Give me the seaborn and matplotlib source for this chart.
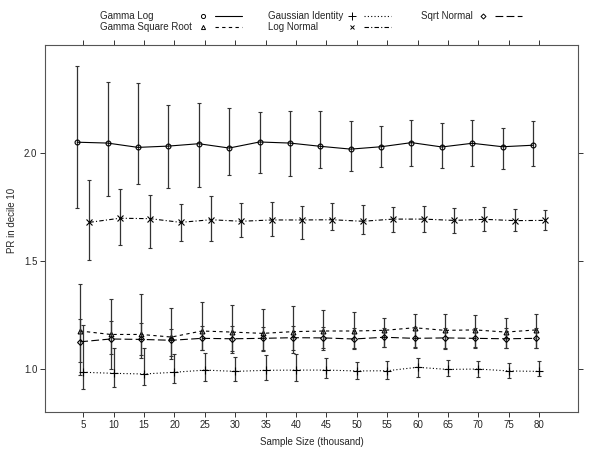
import numpy as np
import pandas as pd
import matplotlib
matplotlib.use("Agg")
import matplotlib.pyplot as plt
import seaborn as sns
from matplotlib.lines import Line2D
from matplotlib.text import Text
from matplotlib.legend_handler import HandlerBase

# sample size (thousand)
sample_size = [5, 10, 15, 20, 25, 30, 35, 40, 45, 50, 55, 60, 65, 70, 75, 80]

models = ["Gamma Log", "Gamma Square Root", "Gaussian Identity", "Log Normal", "Sqrt Normal"]

gamma_log_mean = [2.050, 2.046, 2.026, 2.032, 2.043, 2.023, 2.051, 2.046, 2.031, 2.018, 2.029, 2.048, 2.028, 2.045, 2.029, 2.036]
gamma_log_lo = [1.744, 1.801, 1.855, 1.837, 1.844, 1.897, 1.906, 1.894, 1.929, 1.915, 1.935, 1.938, 1.932, 1.938, 1.926, 1.938]
gamma_log_hi = [2.403, 2.327, 2.323, 2.221, 2.231, 2.207, 2.188, 2.193, 2.193, 2.148, 2.124, 2.151, 2.139, 2.151, 2.114, 2.148]

gamma_sqrt_mean = [1.176, 1.160, 1.160, 1.148, 1.176, 1.171, 1.165, 1.173, 1.176, 1.176, 1.179, 1.191, 1.179, 1.181, 1.171, 1.181]
gamma_sqrt_lo = [0.971, 0.999, 1.051, 1.045, 1.088, 1.073, 1.082, 1.076, 1.088, 1.096, 1.103, 1.103, 1.093, 1.103, 1.096, 1.096]
gamma_sqrt_hi = [1.394, 1.323, 1.346, 1.281, 1.309, 1.296, 1.276, 1.292, 1.272, 1.262, 1.235, 1.256, 1.253, 1.250, 1.235, 1.256]

gaussian_mean = [0.985, 0.980, 0.977, 0.985, 0.995, 0.989, 0.994, 0.995, 0.995, 0.991, 0.992, 1.008, 0.998, 1.000, 0.991, 0.989]
gaussian_lo = [0.906, 0.915, 0.924, 0.934, 0.943, 0.943, 0.948, 0.943, 0.960, 0.954, 0.955, 0.964, 0.968, 0.964, 0.960, 0.966]
gaussian_hi = [1.202, 1.096, 1.096, 1.068, 1.074, 1.056, 1.065, 1.068, 1.049, 1.034, 1.036, 1.049, 1.040, 1.036, 1.026, 1.037]

log_normal_mean = [1.679, 1.698, 1.696, 1.679, 1.691, 1.684, 1.690, 1.690, 1.691, 1.684, 1.694, 1.694, 1.688, 1.693, 1.687, 1.688]
log_normal_lo = [1.505, 1.573, 1.562, 1.591, 1.594, 1.610, 1.614, 1.603, 1.642, 1.623, 1.633, 1.636, 1.631, 1.640, 1.637, 1.645]
log_normal_hi = [1.874, 1.832, 1.804, 1.762, 1.801, 1.767, 1.772, 1.755, 1.767, 1.759, 1.749, 1.755, 1.744, 1.750, 1.741, 1.738]

sqrt_normal_mean = [1.126, 1.139, 1.137, 1.133, 1.142, 1.140, 1.142, 1.145, 1.144, 1.139, 1.147, 1.142, 1.144, 1.142, 1.140, 1.142]
sqrt_normal_lo = [1.031, 1.068, 1.065, 1.060, 1.090, 1.085, 1.090, 1.090, 1.095, 1.092, 1.100, 1.095, 1.098, 1.095, 1.095, 1.097]
sqrt_normal_hi = [1.230, 1.221, 1.215, 1.184, 1.200, 1.200, 1.195, 1.200, 1.195, 1.190, 1.190, 1.195, 1.190, 1.192, 1.188, 1.190]

means = [gamma_log_mean, gamma_sqrt_mean, gaussian_mean, log_normal_mean, sqrt_normal_mean]
lows = [gamma_log_lo, gamma_sqrt_lo, gaussian_lo, log_normal_lo, sqrt_normal_lo]
highs = [gamma_log_hi, gamma_sqrt_hi, gaussian_hi, log_normal_hi, sqrt_normal_hi]

# styling per model (lattice-like)
dodge = {"Gamma Log": -1.0, "Gamma Square Root": -0.5, "Gaussian Identity": 0.0,
         "Log Normal": 1.0, "Sqrt Normal": -0.5}
markers = {"Gamma Log": "o", "Gamma Square Root": "^", "Gaussian Identity": "+",
           "Log Normal": "x", "Sqrt Normal": "D"}
dashes = {"Gamma Log": "", "Gamma Square Root": (3, 3), "Gaussian Identity": (1, 2),
          "Log Normal": (4, 2, 1, 2), "Sqrt Normal": (7, 3)}
msizes = {"Gamma Log": 3.5, "Gamma Square Root": 3.5, "Gaussian Identity": 6,
          "Log Normal": 4, "Sqrt Normal": 3}

rows = []
for name, m, lo, hi in zip(models, means, lows, highs):
    for x, v, l, h in zip(sample_size, m, lo, hi):
        rows.append({"model": name, "size": x, "xpos": x + dodge[name], "pr": v, "lo": l, "hi": h})
df = pd.DataFrame(rows)

sns.set_theme(style="ticks")
plt.rcParams["font.family"] = ["Liberation Sans", "DejaVu Sans"]

fig = plt.figure(figsize=(6, 4.57), dpi=100)
ax = fig.add_axes([45 / 600, 45 / 457, 533 / 600, 367 / 457])

for name in models:
    sub = df[df["model"] == name]
    # error bars
    ax.errorbar(sub["xpos"], sub["pr"],
                yerr=[sub["pr"] - sub["lo"], sub["hi"] - sub["pr"]],
                fmt="none", ecolor="#333333", elinewidth=0.9, capsize=1.3, capthick=0.8)
    # line + symbols
    sns.lineplot(data=sub, x="xpos", y="pr", color="black", linewidth=0.8,
                 marker=markers[name], markersize=msizes[name],
                 markerfacecolor="none", markeredgecolor="black",
                 markeredgewidth=0.8, legend=False, ax=ax, errorbar=None)
    line = ax.get_lines()[-1]
    if dashes[name]:
        line.set_dashes(dashes[name])

ax.set_xlim(-1.3, 86.4)
ax.set_ylim(0.801, 2.5)
ax.set_xticks(sample_size)
ax.set_xticklabels([str(s) for s in sample_size], fontsize=7)
ax.set_yticks([1.0, 1.5, 2.0])
ax.set_yticklabels(["1.0", "1.5", "2.0"], fontsize=7)
ax.tick_params(axis="both", direction="out", length=3.6, width=0.7, color="#333333",
               top=True, right=True, labeltop=False, labelright=False, pad=2)
for s in ax.spines.values():
    s.set_visible(True)
    s.set_linewidth(0.8)
    s.set_color("#555555")
ax.set_xlabel("Sample Size (thousand)", fontsize=7, labelpad=5)
ax.set_ylabel("PR in decile 10", fontsize=7)
ax.yaxis.set_label_coords(-0.0525, 0.523)


# lattice-style key: text, then symbol, then line
class KeyEntry:
    def __init__(self, name, offset):
        self.name = name
        self.offset = offset


class KeyHandler(HandlerBase):
    def create_artists(self, legend, orig_handle, xdescent, ydescent, width, height,
                       fontsize, trans):
        name = orig_handle.name
        x0 = -xdescent
        y = height / 2 - ydescent
        xm = x0 + orig_handle.offset
        txt = Text(x0, y, name, fontsize=7, ha="left", va="center",
                   family=["Liberation Sans", "DejaVu Sans"])
        mk = Line2D([xm], [y], marker=markers[name], linestyle="none", color="black",
                    markerfacecolor="none", markersize=msizes[name] * 0.85, markeredgewidth=0.7)
        ln = Line2D([xm + 8.6, xm + 28], [y, y], color="black", linewidth=0.8)
        if dashes[name]:
            ln.set_dashes(dashes[name])
        for a in (txt, mk, ln):
            a.set_transform(trans)
        return [txt, mk, ln]


key_columns = [["Gamma Log", "Gamma Square Root"], ["Gaussian Identity", "Log Normal"], ["Sqrt Normal"]]
key_offsets = [74, 60.5, 44.6]
key_x = [100, 268, 421]
for names, off, kx in zip(key_columns, key_offsets, key_x):
    fig.legend([KeyEntry(n, off) for n in names], ["" for n in names],
               loc="upper left", bbox_to_anchor=(kx / 600, 1 - 13 / 457),
               frameon=False, fontsize=6, handler_map={KeyEntry: KeyHandler()},
               handlelength=12, handleheight=0.7, handletextpad=0, borderpad=0,
               labelspacing=0.4, borderaxespad=0)

fig.savefig("out.png", dpi=100)
